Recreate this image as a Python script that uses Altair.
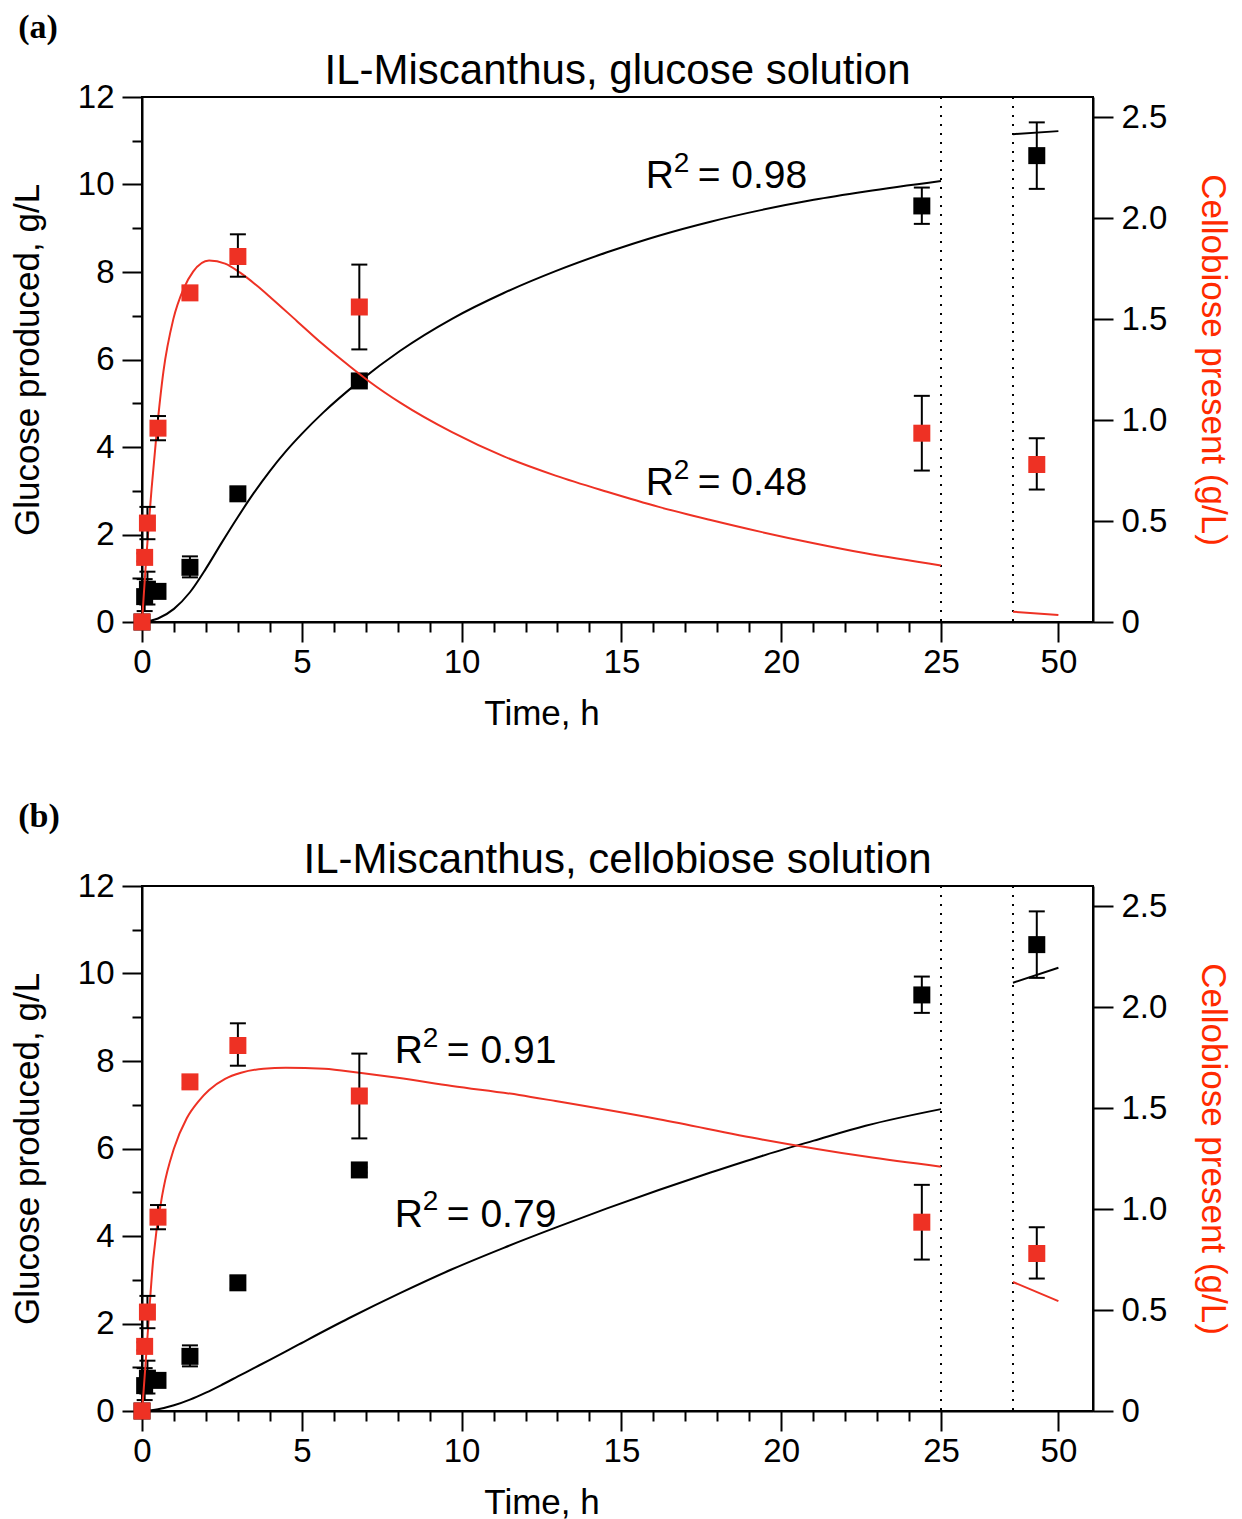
import altair as alt
import pandas as pd

# ---------------- measured points (identical in both panels) ----------------
time_h     = [0, 0.083, 0.17, 0.5, 1.5, 3.0, 6.8, 24.4, 48.0]
glucose    = [0, 0.58, 0.75, 0.70, 1.25, 2.93, 5.51, 9.51, 10.66]
glucose_lo = [0, 0.25, 0.40, 0.60, 1.02, 2.80, 5.45, 9.10, 9.90]
glucose_hi = [0, 0.98, 1.15, 0.80, 1.50, 3.08, 5.57, 9.93, 11.42]
cellob     = [0, 0.32, 0.49, 0.96, 1.63, 1.81, 1.56, 0.935, 0.78]
cellob_lo  = [0, 0.30, 0.41, 0.90, 1.60, 1.71, 1.35, 0.75, 0.656]
cellob_hi  = [0, 0.34, 0.57, 1.02, 1.66, 1.92, 1.77, 1.12, 0.91]

# ---------------- fitted curves ----------------
# panel (a) glucose fit
a_glc_t1 = [0, 0.5, 1.0, 1.5, 2.0, 2.5, 3.0, 3.5, 4.0, 4.5, 5.0, 5.66, 6.8, 8.08, 9.70,
            11.32, 12.94, 14.55, 16.17, 17.79, 19.40, 21.02, 22.64, 25.0]
a_glc_v1 = [0, 0.08, 0.30, 0.68, 1.22, 1.82, 2.40, 2.95, 3.45, 3.90, 4.30, 4.78, 5.50, 6.20,
            6.93, 7.52, 8.02, 8.45, 8.83, 9.15, 9.42, 9.65, 9.84, 10.08]
a_glc_t2 = [45.8, 50.0]
a_glc_v2 = [11.15, 11.22]
# panel (a) cellobiose fit
a_cel_t1 = [0, 0.1, 0.2, 0.3, 0.46, 0.67, 0.98, 1.3, 1.6, 2.1, 2.6, 3.07, 3.6, 4.04,
            4.85, 5.66, 6.47, 7.12, 8.09, 9.70, 11.32, 12.94, 14.55, 16.17, 17.79,
            19.40, 21.02, 22.64, 25.0]
a_cel_v1 = [0, 0.24, 0.46, 0.66, 0.94, 1.24, 1.50, 1.65, 1.735, 1.79, 1.775, 1.73, 1.665,
            1.605, 1.49, 1.375, 1.27, 1.19, 1.085, 0.94, 0.82, 0.725, 0.645, 0.57, 0.505,
            0.445, 0.39, 0.34, 0.28]
a_cel_t2 = [45.8, 50.0]
a_cel_v2 = [0.051, 0.035]
# panel (b) glucose fit
b_glc_t1 = [0, 0.5, 1.0, 1.5, 2.0, 2.5, 3.0, 3.5, 4.0, 4.85, 6.47, 8.09, 9.70, 11.32,
            12.94, 14.55, 16.17, 17.79, 19.40, 21.02, 22.64, 25.0]
b_glc_v1 = [0, 0.04, 0.13, 0.26, 0.42, 0.60, 0.79, 0.98, 1.17, 1.50, 2.12, 2.70, 3.24,
            3.73, 4.19, 4.63, 5.05, 5.45, 5.83, 6.18, 6.52, 6.90]
b_glc_t2 = [45.8, 50.0]
b_glc_v2 = [9.79, 10.13]
# panel (b) cellobiose fit
b_cel_t1 = [0, 0.05, 0.15, 0.35, 0.67, 1.0, 1.4, 1.8, 2.1, 2.6, 3.1, 3.8, 4.5, 5.7,
            6.8, 8.0, 9.7, 11.8, 12.94, 16.17, 19.4, 22.64, 25.0]
b_cel_v1 = [0, 0.10, 0.32, 0.75, 1.10, 1.30, 1.45, 1.54, 1.59, 1.645, 1.675, 1.695,
            1.70, 1.695, 1.675, 1.65, 1.61, 1.565, 1.535, 1.445, 1.345, 1.26, 1.21]
b_cel_t2 = [45.8, 50.0]
b_cel_v2 = [0.639, 0.544]

# axis break positions and R^2 annotations
break_t = [25, 45.8]
a_r2_val = ["= 0.98", "= 0.48"]
a_r2_t = [15.76, 15.76]
a_r2_g = [9.92, 2.90]
b_r2_val = ["= 0.91", "= 0.79"]
b_r2_t = [7.91, 7.91]
b_r2_g = [7.95, 4.21]

RED = "#ee3124"
FONT = "Liberation Sans"

points = pd.DataFrame({"t": time_h, "g": glucose, "glo": glucose_lo, "ghi": glucose_hi,
                       "c": cellob, "clo": cellob_lo, "chi": cellob_hi})
breaks = pd.DataFrame({"t": break_t})

XS = alt.Scale(domain=[0, 25, 45.8, 53.2], range=[0, 799, 871, 951], nice=False, zero=False)
YL = alt.Scale(domain=[0, 12], nice=False)
YR = alt.Scale(domain=[0, 2.6], nice=False)

x_axis = alt.Axis(
    values=list(range(0, 26)) + [50], title="Time, h", titleX=399.5, titlePadding=17,
    labelExpr="datum.value % 5 === 0 ? datum.label : ''",
    tickSize={"condition": {"test": "datum.value % 5 === 0", "value": 20}, "value": 10},
    labelPadding=4,
)
yl_axis = alt.Axis(
    values=list(range(0, 13)), title="Glucose produced, g/L", orient="left",
    labelExpr="datum.value % 2 === 0 ? datum.label : ''",
    tickSize={"condition": {"test": "datum.value % 2 === 0", "value": 20}, "value": 10},
    labelPadding=8, titlePadding=32,
)
yr_axis = alt.Axis(
    values=[0, 0.5, 1.0, 1.5, 2.0, 2.5], title="Cellobiose present (g/L)", orient="right",
    labelExpr="datum.value === 0 ? '0' : format(datum.value, '.1f')",
    tickSize=20, labelPadding=8, titlePadding=28, titleColor="#ff2a00",
)


def curve_df(t1, v1, t2, v2):
    return pd.DataFrame({"t": t1 + t2, "v": v1 + v2,
                         "seg": ["s1"] * len(t1) + ["s2"] * len(t2)})


def panel(title, tag, glc, cel, r2_val, r2_t, r2_g):
    X = alt.X("t:Q", scale=XS, axis=x_axis)
    YG = lambda f: alt.Y(f, scale=YL, axis=yl_axis)
    YC = lambda f: alt.Y(f, scale=YR, axis=yr_axis)
    base = alt.Chart(points)
    r2df = pd.DataFrame({"t": r2_t, "g": r2_g, "txt": r2_val})

    rules = alt.Chart(breaks).mark_rule(color="black", strokeWidth=2, strokeDash=[2, 7]).encode(x=X)
    gline = alt.Chart(curve_df(*glc)).mark_line(color="black", strokeWidth=2, interpolate="monotone").encode(
        x=X, y=YG("v:Q"), detail="seg:N")
    r_txt = alt.Chart(r2df).mark_text(align="left", baseline="alphabetic", fontSize=39, font=FONT,
                                      color="black", text="R").encode(x=X, y=YG("g:Q"))
    sup_txt = alt.Chart(r2df).mark_text(align="left", baseline="alphabetic", fontSize=28, font=FONT,
                                        color="black", text="2", dx=28, dy=-16.5).encode(x=X, y=YG("g:Q"))
    val_txt = alt.Chart(r2df).mark_text(align="left", baseline="alphabetic", fontSize=39, font=FONT,
                                        color="black", dx=52).encode(x=X, y=YG("g:Q"), text="txt:N")
    gerr = base.mark_rule(color="black", strokeWidth=2).encode(x=X, y=YG("glo:Q"), y2="ghi:Q")
    gcap1 = base.mark_tick(orient="horizontal", size=16, thickness=2, color="black", opacity=1).encode(
        x=X, y=YG("glo:Q"))
    gcap2 = base.mark_tick(orient="horizontal", size=16, thickness=2, color="black", opacity=1).encode(
        x=X, y=YG("ghi:Q"))
    gpts = base.mark_square(size=289, color="black", opacity=1).encode(x=X, y=YG("g:Q"))
    glc_group = alt.layer(rules, gline, r_txt, sup_txt, val_txt, gerr, gcap1, gcap2, gpts)

    cline = alt.Chart(curve_df(*cel)).mark_line(color=RED, strokeWidth=2, interpolate="monotone").encode(
        x=X, y=YC("v:Q"), detail="seg:N")
    cerr = base.mark_rule(color="black", strokeWidth=2).encode(x=X, y=YC("clo:Q"), y2="chi:Q")
    ccap1 = base.mark_tick(orient="horizontal", size=16, thickness=2, color="black", opacity=1).encode(
        x=X, y=YC("clo:Q"))
    ccap2 = base.mark_tick(orient="horizontal", size=16, thickness=2, color="black", opacity=1).encode(
        x=X, y=YC("chi:Q"))
    cpts = base.mark_square(size=289, color=RED, opacity=1).encode(x=X, y=YC("c:Q"))
    cel_group = alt.layer(cline, cerr, ccap1, ccap2, cpts)

    inner = alt.layer(glc_group, cel_group).resolve_scale(y="independent").properties(
        width=951, height=525,
        title=alt.TitleParams(title, frame="group", anchor="middle", fontSize=42, font=FONT,
                              fontWeight="normal", baseline="alphabetic", offset=-45.2, color="black"))
    return alt.vconcat(inner).properties(
        title=alt.TitleParams(tag, anchor="start", frame="bounds", font="Liberation Serif",
                              fontSize=34, fontWeight="bold", baseline="alphabetic", offset=-23,
                              dx=9, color="black"))


pa = panel("IL-Miscanthus, glucose solution", "(a)",
           (a_glc_t1, a_glc_v1, a_glc_t2, a_glc_v2), (a_cel_t1, a_cel_v1, a_cel_t2, a_cel_v2),
           a_r2_val, a_r2_t, a_r2_g)
pb = panel("IL-Miscanthus, cellobiose solution", "(b)",
           (b_glc_t1, b_glc_v1, b_glc_t2, b_glc_v2), (b_cel_t1, b_cel_v1, b_cel_t2, b_cel_v2),
           b_r2_val, b_r2_t, b_r2_g)

chart = alt.vconcat(pa, pb, spacing=68).properties(
    padding={"left": 1, "top": 3, "right": 3, "bottom": 5}
).configure_view(
    stroke="black", strokeWidth=2
).configure_axis(
    domainColor="black", domainWidth=2, tickColor="black", tickWidth=2,
    labelFont=FONT, labelFontSize=33, labelColor="black",
    titleFont=FONT, titleFontSize=35, titleFontWeight="normal", titleColor="black",
    grid=False, labelFlush=False, labelOverlap=False,
)

chart.save("out.html", embed_options={"renderer": "svg", "actions": False})
